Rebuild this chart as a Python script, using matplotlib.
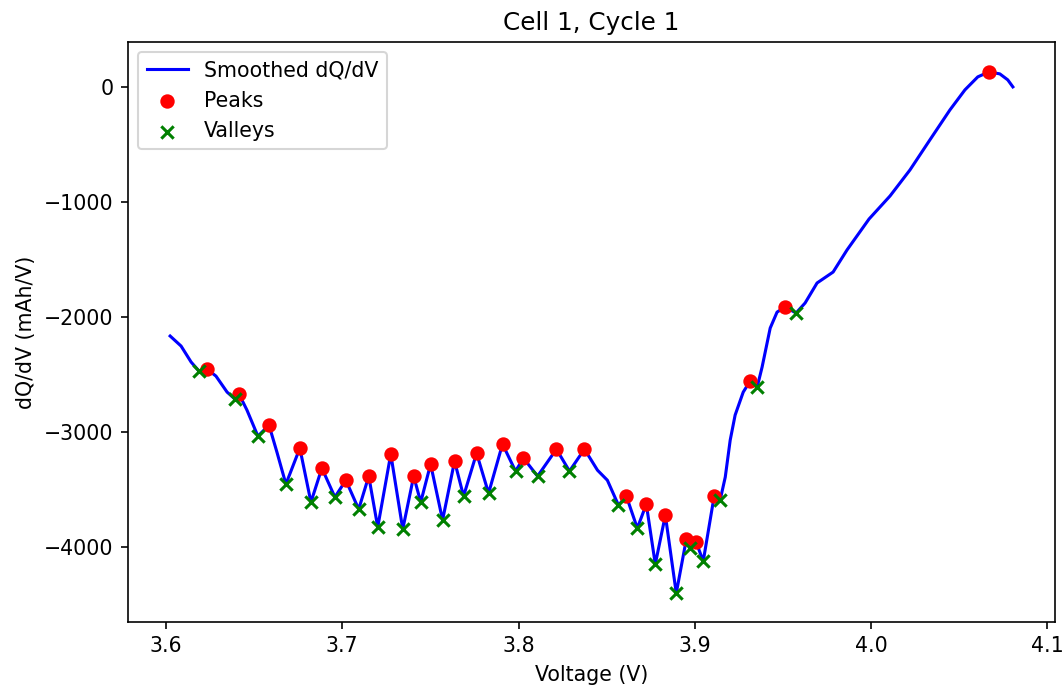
import matplotlib
matplotlib.use('Agg')
import matplotlib.pyplot as plt

# Smoothed dQ/dV curve (voltage in V, dQ/dV in mAh/V)
voltage = [
    3.6023, 3.6085, 3.6142, 3.6187, 3.6232, 3.6283, 3.6346, 3.6391, 3.6414, 3.6459,
    3.6521, 3.6584, 3.6629, 3.6680, 3.6759, 3.6822, 3.6884, 3.6958, 3.7020, 3.7093,
    3.7150, 3.7201, 3.7275, 3.7343, 3.7405, 3.7445, 3.7501, 3.7569, 3.7637, 3.7688,
    3.7762, 3.7830, 3.7909, 3.7983, 3.8028, 3.8108, 3.8215, 3.8289, 3.8374, 3.8448,
    3.8504, 3.8567, 3.8612, 3.8674, 3.8725, 3.8776, 3.8833, 3.8895, 3.8952, 3.8975,
    3.9008, 3.9048, 3.9110, 3.9144, 3.9173, 3.9201, 3.9229, 3.9275, 3.9314, 3.9354,
    3.9382, 3.9428, 3.9467, 3.9513, 3.9575, 3.9626, 3.9694, 3.9785, 3.9864, 3.9989,
    4.0108, 4.0221, 4.0334, 4.0448, 4.0533, 4.0606, 4.0669, 4.0731, 4.0776, 4.0805,
]
dqdv = [
    -2165, -2252, -2391, -2470, -2452, -2513, -2652, -2713, -2670, -2809,
    -3035, -2939, -3174, -3452, -3139, -3609, -3313, -3565, -3418, -3670,
    -3383, -3826, -3191, -3844, -3383, -3609, -3278, -3765, -3252, -3557,
    -3183, -3531, -3104, -3339, -3226, -3383, -3148, -3339, -3148, -3331,
    -3418, -3635, -3557, -3835, -3626, -4148, -3722, -4400, -3931, -4009,
    -3957, -4122, -3557, -3591, -3391, -3070, -2852, -2652, -2557, -2609,
    -2435, -2096, -1957, -1913, -1965, -1878, -1704, -1609, -1417, -1148,
    -948, -722, -461, -200, -26, 87, 130, 113, 61, 0,
]

peak_v = [3.6232, 3.6414, 3.6584, 3.6759, 3.6884, 3.7020, 3.7150, 3.7275, 3.7405,
          3.7501, 3.7637, 3.7762, 3.7909, 3.8028, 3.8215, 3.8374, 3.8612, 3.8725,
          3.8833, 3.8952, 3.9008, 3.9110, 3.9314, 3.9513, 4.0669]
peak_y = [-2452, -2670, -2939, -3139, -3313, -3418, -3383, -3191, -3383,
          -3278, -3252, -3183, -3104, -3226, -3148, -3148, -3557, -3626,
          -3722, -3931, -3957, -3557, -2557, -1913, 130]

valley_v = [3.6187, 3.6391, 3.6521, 3.6680, 3.6822, 3.6958, 3.7093, 3.7201, 3.7343,
            3.7445, 3.7569, 3.7688, 3.7830, 3.7983, 3.8108, 3.8289, 3.8567, 3.8674,
            3.8776, 3.8895, 3.8975, 3.9048, 3.9144, 3.9354, 3.9575]
valley_y = [-2470, -2713, -3035, -3452, -3609, -3565, -3670, -3826, -3844,
            -3609, -3765, -3557, -3531, -3339, -3383, -3339, -3635, -3835,
            -4148, -4400, -4009, -4122, -3591, -2609, -1965]

dpi = 148
fig = plt.figure(figsize=(1064 / dpi, 686 / dpi), dpi=dpi)
ax = fig.add_axes([128 / 1064, 1 - 622 / 686, (1055 - 128) / 1064, (622 - 42) / 686])

ax.plot(voltage, dqdv, color='blue', label='Smoothed dQ/dV')
ax.scatter(peak_v, peak_y, color='red', label='Peaks', zorder=3)
ax.scatter(valley_v, valley_y, color='green', marker='x', label='Valleys', zorder=3)

ax.set_ylim(-4650, 390)
ax.set_title('Cell 1, Cycle 1')
ax.set_xlabel('Voltage (V)')
ax.set_ylabel('dQ/dV (mAh/V)')
ax.legend(loc='upper left')

fig.savefig('out.png', dpi=dpi)
